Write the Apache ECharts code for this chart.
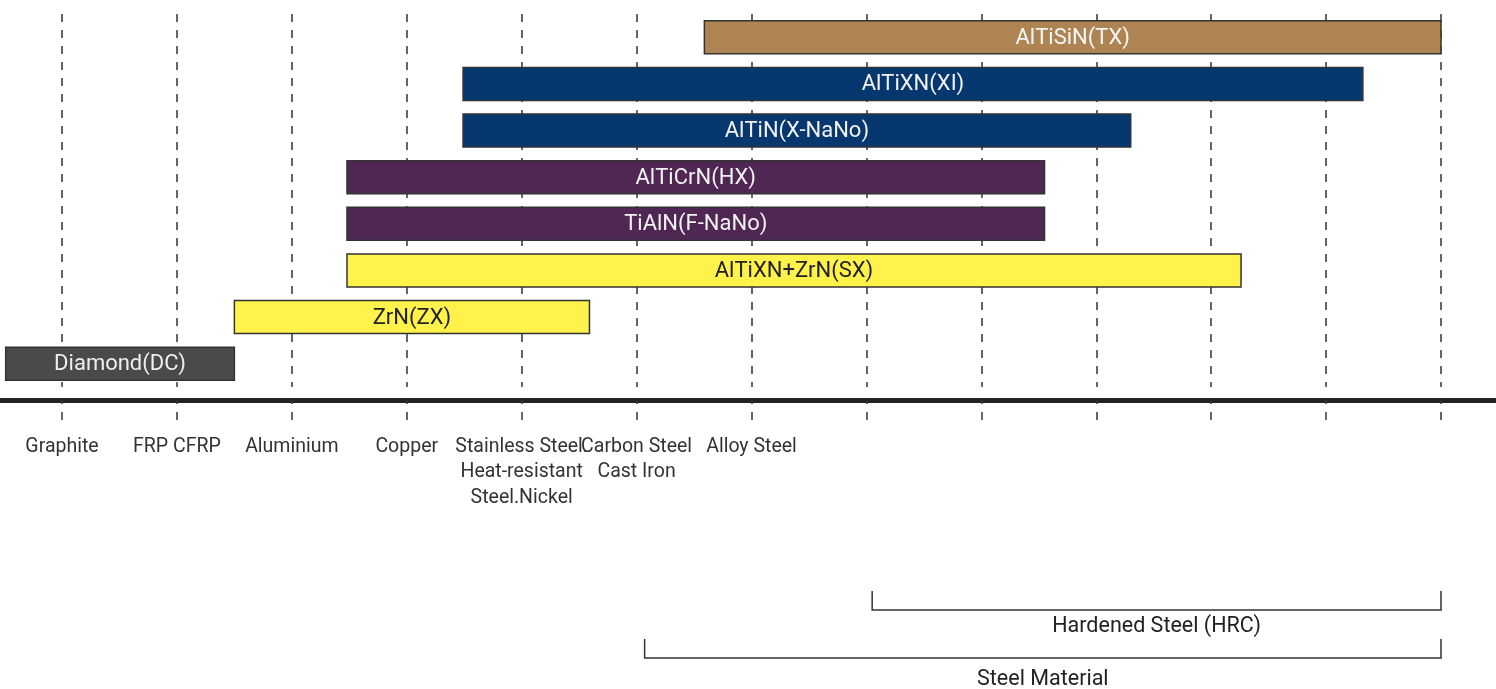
<!DOCTYPE html>
<html>
<head>
<meta charset="utf-8">
<script src="https://cdn.jsdelivr.net/npm/echarts@6/dist/echarts.min.js"></script>
<style>
html, body { margin: 0; padding: 0; background: #fff; }
#main { width: 1496px; height: 689px; }
</style>
</head>
<body>
<div id="main"></div>
<script>
// coatings, bottom row first
var coatings = ['Diamond(DC)', 'ZrN(ZX)', 'AlTiXN+ZrN(SX)', 'TiAlN(F-NaNo)', 'AlTiCrN(HX)', 'AlTiN(X-NaNo)', 'AlTiXN(XI)', 'AlTiSiN(TX)'];
var rangeStart = [-0.49, 1.5, 2.48, 2.48, 2.48, 3.49, 3.49, 5.59];
var rangeEnd = [1.5, 4.59, 10.26, 8.55, 8.55, 9.3, 11.32, 12];

// work materials along the axis (tick 0..12)
var materials = ['Graphite', 'FRP CFRP', 'Aluminium', 'Copper',
	'Stainless Steel.\nHeat-resistant\nSteel.Nickel', 'Carbon Steel\nCast Iron', 'Alloy Steel',
	'', '', '', '', '', ''];

// brackets under the axis
var groups = ['Hardened Steel (HRC)', 'Steel Material'];
var groupStart = [7.05, 5.07];
var groupEnd = [12, 12];

var fillColors = ['#4a4a4a', '#fff24b', '#fff24b', '#4f2752', '#4f2752', '#06376f', '#06376f', '#ae8453'];
var textColors = ['#eeeeee', '#222222', '#222222', '#f2f2f2', '#f2f2f2', '#f2f2f2', '#f2f2f2', '#f7f7f7'];
var groupTextGap = [17, 22];
var font = 'Roboto, "Noto Sans", sans-serif';

var barData = coatings.map(function(c, i) {
	return [i, rangeStart[i], rangeEnd[i]];
});
var groupData = groups.map(function(g, i) {
	return [i, groupStart[i], groupEnd[i]];
});

function renderBar(params, api) {
	var row = api.value(0);
	var a = api.coord([api.value(1), row]);
	var b = api.coord([api.value(2), row]);
	var h = api.size([0, 1])[1] * 0.71;
	var i = params.dataIndex;
	return {
		type: 'rect',
		shape: { x: a[0], y: a[1] - h / 2, width: b[0] - a[0], height: h },
		style: { fill: fillColors[i], stroke: '#333', lineWidth: 1.5 },
		textContent: {
			style: { text: coatings[i], fill: textColors[i], fontSize: 22, fontFamily: font }
		},
		textConfig: { position: 'inside', offset: [0, 1] }
	};
}

function renderBracket(params, api) {
	var row = api.value(0);
	var a = api.coord([api.value(1), row]);
	var b = api.coord([api.value(2), row]);
	return {
		type: 'group',
		children: [{
			type: 'polyline',
			shape: { points: [[a[0], a[1] - 19], [a[0], a[1]], [b[0], b[1]], [b[0], b[1] - 19]] },
			style: { stroke: '#333', lineWidth: 1.5, fill: null }
		}, {
			type: 'text',
			x: (a[0] + b[0]) / 2,
			y: a[1] + groupTextGap[params.dataIndex],
			style: {
				text: groups[params.dataIndex], fill: '#222', fontSize: 21.5, fontFamily: font,
				align: 'center', verticalAlign: 'middle'
			}
		}]
	};
}

var chart = echarts.init(document.getElementById('main'));
chart.setOption({
	animation: false,
	grid: [
		{ left: 62, right: 55, top: 14, bottom: 302 },
		{ left: 0, right: 0, top: 14, bottom: 289 },
		{ left: 62, right: 55, top: 586, bottom: 7 }
	],
	xAxis: [{
		gridIndex: 0,
		type: 'value',
		min: 0,
		max: 12,
		interval: 1,
		offset: 13,
		axisLine: { show: false },
		axisTick: {
			show: true,
			length: 20,
			lineStyle: { color: '#333', width: 1.5, type: [8, 8], dashOffset: 4 }
		},
		splitLine: {
			show: true,
			lineStyle: { color: '#333', width: 1.5, type: [8, 8] }
		},
		axisLabel: {
			margin: 34,
			fontSize: 19.5,
			lineHeight: 25.5,
			color: '#333',
			fontFamily: font,
			formatter: function(v) {
				return materials[Math.round(v)] || '';
			}
		}
	}, {
		gridIndex: 1,
		type: 'value',
		min: 0,
		max: 1,
		axisLine: { show: true, lineStyle: { color: '#222', width: 5 } },
		axisTick: { show: false },
		axisLabel: { show: false },
		splitLine: { show: false }
	}, {
		gridIndex: 2,
		type: 'value',
		min: 0,
		max: 12,
		show: false
	}],
	yAxis: [{
		gridIndex: 0,
		type: 'category',
		data: coatings,
		show: false
	}, {
		gridIndex: 1,
		type: 'value',
		show: false
	}, {
		gridIndex: 2,
		type: 'category',
		data: groups,
		inverse: true,
		show: false
	}],
	series: [{
		type: 'custom',
		xAxisIndex: 0,
		yAxisIndex: 0,
		clip: false,
		renderItem: renderBar,
		encode: { x: [1, 2], y: 0 },
		data: barData
	}, {
		type: 'custom',
		xAxisIndex: 2,
		yAxisIndex: 2,
		clip: false,
		renderItem: renderBracket,
		encode: { x: [1, 2], y: 0 },
		data: groupData
	}]
});
window.onresize = function() {
	chart.resize();
};
</script>
</body>
</html>
